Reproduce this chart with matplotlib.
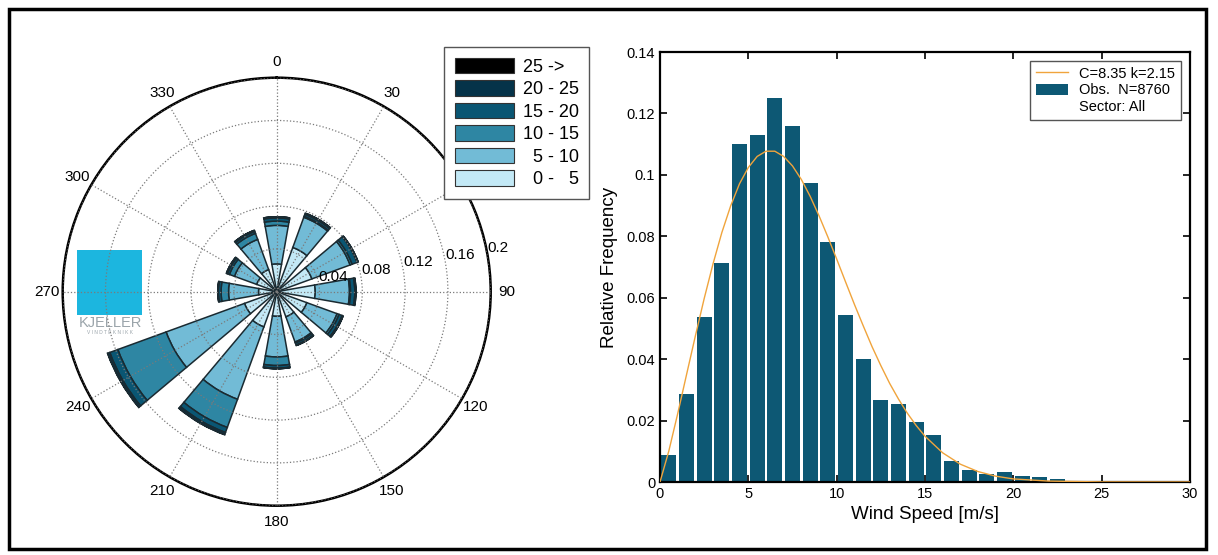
"""Wind rose + wind speed histogram (Kjeller Vindteknikk style)."""

import matplotlib
matplotlib.use("Agg")
import matplotlib.pyplot as plt
import numpy as np
from matplotlib.lines import Line2D
from matplotlib.patches import Patch, Rectangle

plt.rcParams["font.family"] = ["Liberation Sans", "DejaVu Sans"]

# ---- wind rose data (relative frequency per 30 deg sector, stacked by speed class)
sectors = [0, 30, 60, 90, 120, 150, 180, 210, 240, 270, 300, 330]
speed_classes = ["\u20070 - \u20075", "\u20075 - 10", "10 - 15", "15 - 20", "20 - 25", "25 ->"]
class_colors = ["#c3e9f6", "#72bbd6", "#2e86a3", "#0a5673", "#053349", "#000000"]
freq_0_5 = [0.026, 0.044, 0.035, 0.036, 0.030, 0.025, 0.023, 0.035, 0.032, 0.017, 0.020, 0.022]
freq_5_10 = [0.036, 0.030, 0.038, 0.032, 0.030, 0.025, 0.038, 0.072, 0.078, 0.028, 0.022, 0.030]
freq_10_15 = [0.004, 0.001, 0.002, 0.001, 0.002, 0.001, 0.008, 0.028, 0.048, 0.007, 0.005, 0.006]
freq_15_20 = [0.003, 0.002, 0.005, 0.004, 0.003, 0.002, 0.0025, 0.005, 0.008, 0.0025, 0.002, 0.002]
freq_20_25 = [0.001, 0.001, 0.001, 0.001, 0.001, 0.0005, 0.0005, 0.002, 0.002, 0.0005, 0.001, 0.001]
freq_25_up = [0.0, 0.0, 0.0, 0.0, 0.0, 0.0, 0.0, 0.0003, 0.0003, 0.0, 0.0, 0.0]
r_ticks = [0.04, 0.08, 0.12, 0.16, 0.2]
r_tick_labels = ["0.04", "0.08", "0.12", "0.16", "0.2"]

# ---- histogram data (1 m/s bins)
bin_left = list(range(0, 30))
rel_freq = [0.0087, 0.0287, 0.0536, 0.0712, 0.1100, 0.1131, 0.1249, 0.1158, 0.0975, 0.0782,
            0.0543, 0.0400, 0.0268, 0.0254, 0.0196, 0.0154, 0.0067, 0.0038, 0.0027, 0.0031,
            0.0020, 0.0015, 0.0010, 0.0003, 0.0003, 0.0001, 0.0, 0.0, 0.0, 0.0]
# Weibull fit curve
fit_x = [0, 0.5, 1, 1.5, 2, 2.5, 3, 3.5, 4, 4.5, 5, 5.5, 6, 6.5, 7, 7.5, 8, 8.5, 9, 9.5,
         10, 10.5, 11, 11.5, 12, 12.5, 13, 13.5, 14, 14.5, 15, 16, 17, 18, 19, 20, 22, 25, 30]
fit_y = [0.0, 0.0101, 0.0222, 0.0349, 0.0475, 0.0597, 0.0710, 0.0812, 0.0899, 0.0971,
         0.1024, 0.1060, 0.1077, 0.1077, 0.1060, 0.1029, 0.0985, 0.0930, 0.0867, 0.0798,
         0.0726, 0.0652, 0.0579, 0.0509, 0.0441, 0.0379, 0.0321, 0.0270, 0.0224, 0.0184,
         0.0149, 0.0095, 0.0058, 0.0034, 0.0019, 0.0010, 0.0003, 0.00002, 0.0]
x_ticks = [0, 5, 10, 15, 20, 25, 30]
y_ticks = [0, 0.02, 0.04, 0.06, 0.08, 0.1, 0.12, 0.14]
y_tick_labels = ["0", "0.02", "0.04", "0.06", "0.08", "0.1", "0.12", "0.14"]

fig = plt.figure(figsize=(12.18, 5.55), dpi=100)

# logo behind the rose
logo = fig.add_axes([77 / 1218, 1 - 315 / 555, 65 / 1218, 65 / 555], zorder=0)
logo.set_facecolor("#1cb6df")
logo.set_xticks([])
logo.set_yticks([])
for s in logo.spines.values():
    s.set_visible(False)
fig.text(110 / 1218, 1 - 323 / 555, "KJELLER", ha="center", va="center",
         fontsize=10.5, color="#9aa4aa", zorder=0)
fig.text(110 / 1218, 1 - 333 / 555, "V I N D T E K N I K K", ha="center", va="center",
         fontsize=3.5, color="#9aa4aa", zorder=0)

# ---- wind rose
ax = fig.add_axes([62.7 / 1218, 1 - 505.7 / 555, 428 / 1218, 428 / 555],
                  projection="polar", zorder=1)
ax.patch.set_alpha(0)
ax.set_theta_zero_location("N")
ax.set_theta_direction(-1)
theta = np.deg2rad(sectors)
width = np.deg2rad(20)
bottom = np.zeros(len(sectors))
layers = [freq_0_5, freq_5_10, freq_10_15, freq_15_20, freq_20_25, freq_25_up]
for vals, col in zip(layers, class_colors):
    ax.bar(theta, vals, width=width, bottom=bottom, color=col,
           edgecolor="#1a2a31", linewidth=1.1, zorder=1)
    bottom = bottom + np.array(vals)
ax.set_ylim(0, 0.2)
ax.set_rticks(r_ticks)
ax.set_yticklabels(r_tick_labels, fontsize=11)
ax.set_rlabel_position(80)
ax.set_thetagrids(sectors, [str(s) for s in sectors], fontsize=11)
ax.tick_params(axis="x", pad=1)
ax.set_axisbelow(False)
ax.grid(True, color="#7a7a7a", linestyle=":", linewidth=0.9)
ax.spines["polar"].set_linewidth(1.8)

handles = [Patch(facecolor=c, edgecolor="#333333", linewidth=0.8) for c in class_colors]
leg = fig.legend(handles[::-1], speed_classes[::-1], loc="upper left",
                 bbox_to_anchor=(444 / 1218, 1 - 47 / 555), borderaxespad=0, fontsize=13,
                 handlelength=3.3, handleheight=0.95, labelspacing=0.25,
                 handletextpad=0.45, borderpad=0.6, fancybox=False,
                 edgecolor="#555555", framealpha=1)
leg.get_frame().set_linewidth(1.0)

# ---- histogram
ax2 = fig.add_axes([660 / 1218, 1 - 482 / 555, 530 / 1218, 430 / 555])
ax2.bar(np.array(bin_left) + 0.5, rel_freq, width=0.85, color="#0d5874", zorder=2)
ax2.plot(fit_x, fit_y, color="#f0a43c", linewidth=1.0, zorder=3)
ax2.set_xlim(0, 30)
ax2.set_ylim(0, 0.14)
ax2.set_xticks(x_ticks)
ax2.set_yticks(y_ticks)
ax2.set_yticklabels(y_tick_labels)
ax2.tick_params(direction="in", top=True, right=True, length=5, width=1.2, labelsize=10.5)
for s in ax2.spines.values():
    s.set_linewidth(1.6)
ax2.set_xlabel("Wind Speed [m/s]", fontsize=13.5, labelpad=4)
ax2.set_ylabel("Relative Frequency", fontsize=13.5, labelpad=6)
h2 = [Line2D([], [], color="#f0a43c", linewidth=1.0),
      Patch(facecolor="#0d5874"),
      Line2D([], [], linestyle="none")]
leg2 = ax2.legend(h2, ["C=8.35 k=2.15", "Obs.  N=8760", "Sector: All"], loc="upper right",
                  fontsize=10.5, fancybox=False, edgecolor="#555555", framealpha=1,
                  handlelength=2.2, labelspacing=0.2, borderaxespad=0.6)
leg2.get_frame().set_linewidth(1.0)

# outer frame
fig.patches.append(Rectangle((9 / 1218, 6 / 555), 1197 / 1218, 540 / 555,
                             transform=fig.transFigure, fill=False,
                             edgecolor="black", linewidth=2.5))

fig.savefig("out.png", dpi=100)
